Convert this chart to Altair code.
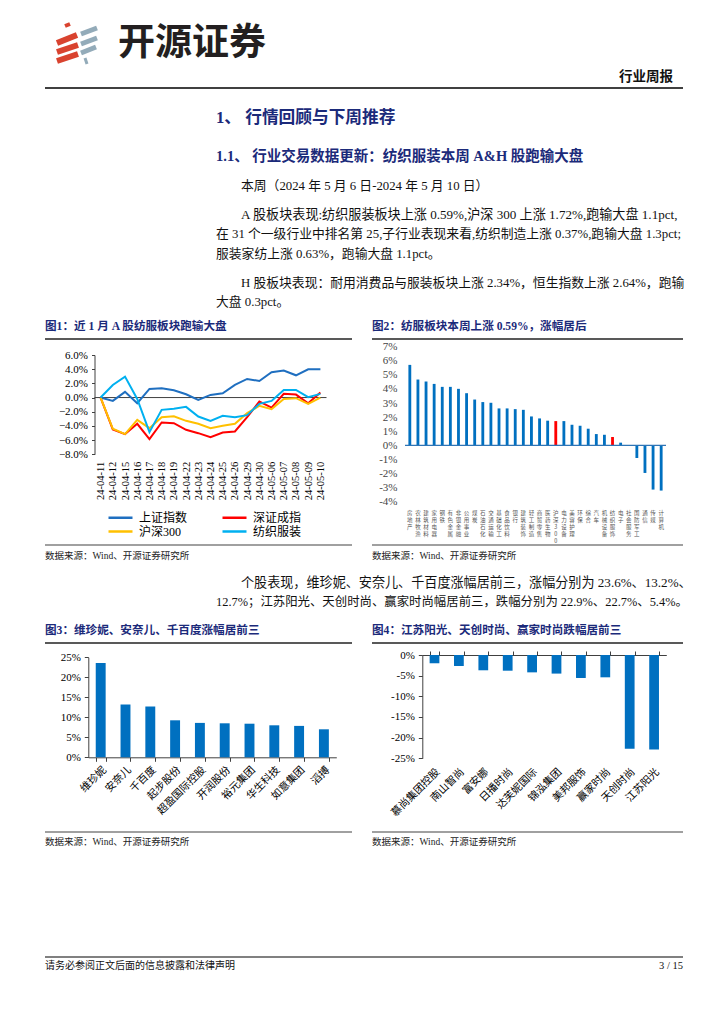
import altair as alt
import pandas as pd

W, H = 708, 1008
BODY = "Liberation Serif, Noto Sans CJK SC"
SANS = "Noto Sans CJK SC"
NAVY = "#1b2a7a"
AXC = "#404040"

# ---------------- data ----------------
dates = ["24-04-11", "24-04-12", "24-04-15", "24-04-16", "24-04-17", "24-04-18", "24-04-19",
         "24-04-22", "24-04-23", "24-04-24", "24-04-25", "24-04-26", "24-04-29", "24-04-30",
         "24-05-06", "24-05-07", "24-05-08", "24-05-09", "24-05-10"]
sh_index = [0.0, -0.47, 0.8, -0.8, 1.22, 1.31, 1.03, 0.47, -0.33, 0.37, 0.61, 1.78, 2.62, 2.34,
            3.56, 3.8, 3.14, 3.98, 3.98]
sz_index = [0.0, -4.5, -5.15, -3.7, -5.86, -3.52, -3.61, -4.55, -5.02, -5.58, -4.92, -4.78, -2.77,
            -0.56, -1.41, 0.52, 0.42, -0.8, 0.7]
hs300 = [0.0, -4.4, -5.15, -3.14, -4.31, -2.77, -2.63, -3.28, -3.7, -4.31, -3.98, -3.7, -2.2,
         -1.17, -1.64, -0.19, -0.09, -0.89, 0.0]
textile = [0.0, 1.78, 2.95, -0.2, -4.88, -1.73, -1.59, -1.31, -2.67, -3.28, -2.58, -2.77, -2.48,
           -0.89, -0.47, 1.08, 1.08, 0.05, 0.52]
series_names = ["上证指数", "深证成指", "沪深300", "纺织服装"]
series_colors = ["#1f6fc0", "#ff0000", "#ffc000", "#00b0f0"]

ind_names = ["房地产", "农林牧渔", "建筑材料", "家用电器", "钢铁", "有色金属", "非银金融", "公用事业",
             "煤炭", "石油石化", "交通运输", "基础化工", "食品饮料", "银行", "建筑装饰", "轻工制造",
             "商贸零售", "医药生物", "沪深300", "电力设备", "美容护理", "环保", "综合", "汽车",
             "机械设备", "纺织服饰", "电子", "社会服务", "国防军工", "通信", "传媒", "计算机"]
ind_values = [5.71, 4.67, 4.53, 4.36, 4.15, 4.15, 4.01, 3.70, 3.25, 3.07, 3.02, 2.62, 2.62, 2.57,
              2.52, 2.05, 1.91, 1.75, 1.72, 1.72, 1.46, 1.39, 1.18, 0.80, 0.75, 0.59, 0.19, 0.02,
              -0.90, -1.96, -3.14, -3.21]
highlight = ["沪深300", "纺织服饰"]

gain_names = ["维珍妮", "安奈儿", "千百度", "起步股份", "超盈国际控股", "开润股份", "裕元集团",
              "华生科技", "如意集团", "滔搏"]
gain_values = [23.6, 13.2, 12.7, 9.25, 8.6, 8.5, 8.4, 8.0, 7.85, 7.0]

loss_names = ["慕尚集团控股", "南山智尚", "富安娜", "日播时尚", "达芙妮国际", "锦泓集团", "美邦服饰",
              "赢家时尚", "天创时尚", "江苏阳光"]
loss_values = [-2.0, -2.66, -3.7, -3.8, -4.2, -4.5, -5.56, -5.4, -22.7, -22.9]

# ---------------- text ----------------
brand = "开源证券"
report_type = "行业周报"
h1 = "1、 行情回顾与下周推荐"
h2 = "1.1、 行业交易数据更新：纺织服装本周 A&H 股跑输大盘"
para1 = ["本周（2024 年 5 月 6 日-2024 年 5 月 10 日）"]
para2 = ["A 股板块表现:纺织服装板块上涨 0.59%,沪深 300 上涨 1.72%,跑输大盘 1.1pct,",
         "在 31 个一级行业中排名第 25,子行业表现来看,纺织制造上涨 0.37%,跑输大盘 1.3pct;",
         "服装家纺上涨 0.63%，跑输大盘 1.1pct。"]
para3 = ["H 股板块表现：耐用消费品与服装板块上涨 2.34%，恒生指数上涨 2.64%，跑输",
         "大盘 0.3pct。"]
para4 = ["个股表现，维珍妮、安奈儿、千百度涨幅居前三，涨幅分别为 23.6%、13.2%、",
         "12.7%；江苏阳光、天创时尚、赢家时尚幅居前三，跌幅分别为 22.9%、22.7%、5.4%。"]
fig_titles = ["图1：近 1 月 A 股纺服板块跑输大盘", "图2：纺服板块本周上涨 0.59%，涨幅居后",
              "图3：维珍妮、安奈儿、千百度涨幅居前三", "图4：江苏阳光、天创时尚、赢家时尚跌幅居前三"]
source = "数据来源：Wind、开源证券研究所"
disclaimer = "请务必参阅正文后面的信息披露和法律声明"
page_no = "3 / 15"

BODY_SIZE = 12.8

# page coordinate helpers (page has 8px margin)
def px(x):
    return x - 8

def py(y):
    return y - 8

one = pd.DataFrame({"k": [0]})

def T(s, x, y, size=BODY_SIZE, font=BODY, weight="normal", color="#111111", align="left"):
    return alt.Chart(one).mark_text(text=s, align=align, baseline="middle", font=font,
                                    fontSize=size, fontWeight=weight, color=color).encode(
        x=alt.value(px(x)), y=alt.value(py(y)))

def R(x1, x2, y, color="#000000", w=1.0):
    return alt.Chart(one).mark_rule(color=color, strokeWidth=w).encode(
        x=alt.value(px(x1)), x2=alt.value(px(x2)), y=alt.value(py(y)))

def S(x1, y1, x2, y2, color, w):
    return alt.Chart(one).mark_rule(color=color, strokeWidth=w, strokeCap="butt").encode(
        x=alt.value(px(x1)), y=alt.value(py(y1)), x2=alt.value(px(x2)), y2=alt.value(py(y2)))

layers = []
# logo
RED, GREY = "#d9432f", "#93abb9"
layers += [S(65, 26, 70, 24, RED, 4),
           S(57, 43, 77, 35, RED, 6), S(57, 52, 78, 45, RED, 6), S(57, 61, 78, 54, RED, 6),
           S(81, 34, 97, 28, GREY, 5), S(81, 44, 97, 38, GREY, 5), S(81, 53, 96, 47, GREY, 5),
           S(85, 58, 87, 64, GREY, 3)]
layers += [T(brand, 118, 44, size=37, font=SANS, weight="bold", color="#231f20")]
layers += [T(report_type, 673, 77, size=13.5, font=SANS, weight="bold", color="#111111", align="right")]
layers += [R(45, 683, 88, "#000000", 1.5)]
layers += [T(h1, 216, 118, size=16.7, weight="bold", color=NAVY)]
layers += [T(h2, 216, 157, size=14.5, weight="bold", color=NAVY)]
layers += [T(para1[0], 241, 186)]
layers += [T(para2[0], 241, 215, size=13.1), T(para2[1], 216, 234), T(para2[2], 216, 254)]
layers += [T(para3[0], 241, 283), T(para3[1], 216, 302)]
layers += [T(fig_titles[0], 45, 327, size=11.6, weight="bold", color=NAVY),
           T(fig_titles[1], 372, 327, size=11.6, weight="bold", color=NAVY),
           R(45, 352, 339, "#222222", 1.5), R(372, 683, 339, "#222222", 1.5)]
layers += [R(45, 352, 545, "#808080", 1.5), R(372, 683, 545, "#808080", 1.5),
           T(source, 45, 556, size=9.5, color="#222222"), T(source, 372, 556, size=9.5, color="#222222")]
layers += [T(para4[0], 241, 583, size=13.1), T(para4[1], 216, 602, size=12.4)]
layers += [T(fig_titles[2], 45, 631, size=11.6, weight="bold", color=NAVY),
           T(fig_titles[3], 372, 631, size=11.6, weight="bold", color=NAVY),
           R(45, 352, 643, "#222222", 1.5), R(372, 683, 643, "#222222", 1.5)]
layers += [R(45, 352, 832, "#808080", 1.5), R(372, 683, 832, "#808080", 1.5),
           T(source, 45, 842, size=9.5, color="#222222"), T(source, 372, 842, size=9.5, color="#222222")]
layers += [R(45, 683, 957, "#808080", 2),
           T(disclaimer, 45, 966, size=10, color="#111111"),
           T(page_no, 683, 966, size=10.5, color="#111111", align="right")]

# ---------------- chart 1 ----------------
rows = []
for name, vals in zip(series_names, [sh_index, sz_index, hs300, textile]):
    for d, v in zip(dates, vals):
        rows.append({"date": d, "series": name, "value": v})
df1 = pd.DataFrame(rows)

c1_x0, c1_x1 = px(94.5), px(326.5)
c1_top, c1_bot = py(355), py(454.3)
line1 = alt.Chart(df1).mark_line(strokeWidth=2).encode(
    x=alt.X("date:N", sort=dates,
            scale=alt.Scale(type="point", padding=0.5, range=[c1_x0, c1_x1]),
            axis=alt.Axis(orient="bottom", offset=-(H - c1_bot), domain=False, ticks=False,
                          labelAngle=-90, labelFont=BODY, labelFontSize=10.5, labelPadding=7,
                          labelColor="#000000", labelOverlap=False, title=None)),
    y=alt.Y("value:Q", scale=alt.Scale(domain=[-8, 6], range=[c1_bot, c1_top], nice=False, zero=False),
            axis=alt.Axis(orient="left", offset=-c1_x0, values=list(range(-8, 7, 2)),
                          labelExpr="format(datum.value, '.1f') + '%'", domainColor=AXC,
                          tickColor=AXC, tickSize=3, labelPadding=4, labelFont=BODY,
                          labelFontSize=11, labelColor="#000000", title=None)),
    color=alt.Color("series:N", scale=alt.Scale(domain=series_names, range=series_colors),
                    legend=alt.Legend(orient="none", legendX=px(114), legendY=py(511), columns=2,
                                      direction="horizontal",
                                      symbolType="M-2.4,0H2.4", symbolSize=100, symbolStrokeWidth=2.5,
                                      labelOffset=12, labelFont=BODY, labelFontSize=12,
                                      labelColor="#000000", columnPadding=29, rowPadding=1,
                                      title=None)),
    order=alt.Order("series_order:Q"),
).transform_calculate(
    series_order="indexof(['上证指数','深证成指','沪深300','纺织服装'], datum.series)"
)
zero1 = alt.Chart(pd.DataFrame({"v": [0]})).mark_rule(color=AXC, strokeWidth=1).encode(
    y="v:Q", x=alt.value(c1_x0), x2=alt.value(c1_x1))
chart1 = alt.layer(zero1, line1)

# ---------------- chart 2 ----------------
df2 = pd.DataFrame({"name": ind_names, "value": ind_values})
c2_x0, c2_x1 = px(405), px(666)
c2_top, c2_bot = py(346.7), py(501.7)
cond = " || ".join(["datum.name == '%s'" % h for h in highlight])
bars2 = alt.Chart(df2).mark_bar().encode(
    x=alt.X("name:N", sort=ind_names,
            scale=alt.Scale(range=[c2_x0, c2_x1], paddingInner=0.65, paddingOuter=0.42),
            axis=alt.Axis(orient="bottom", offset=-(H - c2_bot), domain=False, ticks=False,
                          labelAngle=0, labelExpr="split(datum.label, '')", labelFont=SANS,
                          labelFontSize=5.5, labelLineHeight=7, labelBaseline="top",
                          labelPadding=9, labelColor="#555555", labelOverlap=False, title=None)),
    y=alt.Y("value:Q", scale=alt.Scale(domain=[-4, 7], range=[c2_bot, c2_top], nice=False),
            axis=alt.Axis(orient="left", offset=-c2_x0, values=list(range(-4, 8)),
                          labelExpr="datum.value + '%'", domain=False, ticks=False,
                          labelPadding=8, labelFont=BODY, labelFontSize=11,
                          labelColor="#444444", title=None)),
    color=alt.condition(cond, alt.value("#ff0000"), alt.value("#0070c0")),
)
zero2 = alt.Chart(pd.DataFrame({"v": [0]})).mark_rule(color="#2e75b6", strokeWidth=1.3).encode(
    y="v:Q", x=alt.value(c2_x0), x2=alt.value(c2_x1))
chart2 = alt.layer(bars2, zero2)

# ---------------- chart 3 ----------------
df3 = pd.DataFrame({"name": gain_names, "value": gain_values})
c3_x0, c3_x1 = px(88.3), px(336.3)
c3_top, c3_bot = py(657.3), py(757.3)
chart3 = alt.Chart(df3).mark_bar(color="#0070c0").encode(
    x=alt.X("name:N", sort=gain_names,
            scale=alt.Scale(range=[c3_x0, c3_x1], paddingInner=0.6, paddingOuter=0.3),
            axis=alt.Axis(orient="bottom", offset=-(H - c3_bot), domainColor=AXC, tickColor=AXC,
                          tickSize=4, tickBand="extent", labelAngle=-45, labelFont=SANS,
                          labelFontSize=10.5, labelPadding=3, labelColor="#000000",
                          labelOverlap=False, title=None)),
    y=alt.Y("value:Q", scale=alt.Scale(domain=[0, 25], range=[c3_bot, c3_top], nice=False),
            axis=alt.Axis(orient="left", offset=-c3_x0, values=list(range(0, 26, 5)),
                          labelExpr="datum.value + '%'", domainColor=AXC, tickColor=AXC,
                          tickSize=4, labelPadding=4, labelFont=BODY, labelFontSize=11,
                          labelColor="#000000", title=None)),
)

# ---------------- chart 4 ----------------
df4 = pd.DataFrame({"name": loss_names, "value": loss_values})
c4_x0, c4_x1 = px(422.3), px(666.3)
c4_top, c4_bot = py(655), py(758.3)
x4_scale = alt.Scale(range=[c4_x0, c4_x1], paddingInner=0.6, paddingOuter=0.3)
bars4 = alt.Chart(df4).mark_bar(color="#0070c0").encode(
    x=alt.X("name:N", sort=loss_names, scale=x4_scale,
            axis=alt.Axis(orient="bottom", offset=-(H - c4_bot), domain=False, ticks=False,
                          labelAngle=-45, labelFont=SANS, labelFontSize=10.5, labelPadding=8,
                          labelColor="#000000", labelOverlap=False, title=None)),
    y=alt.Y("value:Q", scale=alt.Scale(domain=[-25, 0], range=[c4_bot, c4_top], nice=False),
            axis=alt.Axis(orient="left", offset=-c4_x0, values=list(range(-25, 1, 5)),
                          labelExpr="datum.value + '%'", domainColor=AXC, tickColor=AXC,
                          tickSize=4, labelPadding=4, labelFont=BODY, labelFontSize=11,
                          labelColor="#000000", title=None)),
)
top4 = alt.Chart(df4).mark_point(opacity=0).encode(
    x=alt.X("name:N", sort=loss_names, scale=x4_scale,
            axis=alt.Axis(orient="top", offset=-c4_top, labels=False, domainColor=AXC,
                          tickColor=AXC, tickSize=4, tickBand="extent", title=None)),
    y=alt.value(c4_top),
)
chart4 = alt.layer(bars4, top4)

chart = alt.layer(*layers, chart1, chart2, chart3, chart4).resolve_scale(
    x="independent", y="independent", color="independent"
).properties(width=W, height=H, padding=0, background="white").configure_view(
    stroke=None).configure_axis(grid=False)

chart.save("out.html", embed_options={"renderer": "svg", "actions": False})
